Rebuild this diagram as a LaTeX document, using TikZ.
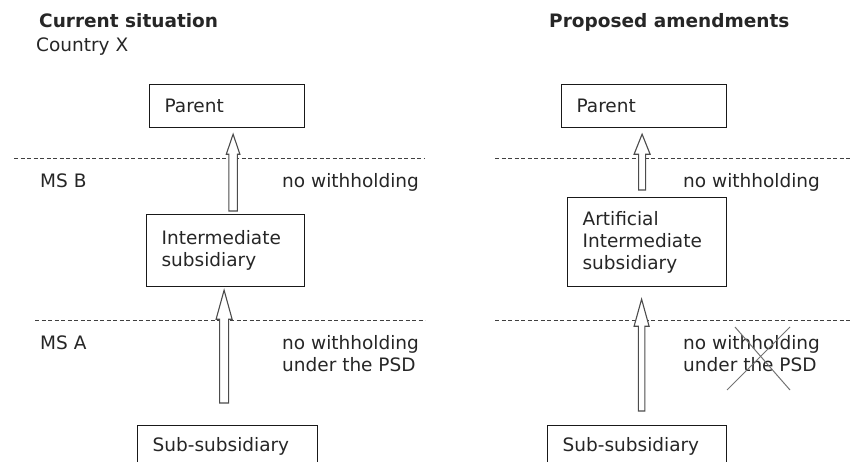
\documentclass[tikz,border=0pt]{standalone}
\usepackage{fontspec}
\setmainfont{DejaVu Sans}
\usetikzlibrary{calc}
% hollow block arrow: tail, tip, shaft half width, head half width, head length (pt)
\newcommand\flowarrow[5]{%
  \draw[flow] let \p1=(#1), \p2=(#2) in
    (\x2-#3pt,\y1) -- (\x2-#3pt,\y2-#5pt) -- (\x2-#4pt,\y2-#5pt) -- (\x2,\y2)
    -- (\x2+#4pt,\y2-#5pt) -- (\x2+#3pt,\y2-#5pt) -- (\x2+#3pt,\y1) -- cycle;}
\begin{document}
\begin{tikzpicture}[x=1pt,y=-1pt,
  basefont/.style={font=\fontsize{18.5pt}{22pt}\selectfont},
  txt/.style={basefont, inner sep=0pt, text=black!85, align=left},
  title/.style={txt, font=\fontsize{18.5pt}{22pt}\selectfont\bfseries},
  entity/.style={basefont, draw=black!90, line width=1.2pt, anchor=north west,
    inner xsep=15pt, inner ysep=0pt, align=left, text=black!85},
  border/.style={dash pattern=on 4pt off 2.5pt, line width=1pt, draw=black!75},
  flow/.style={draw=black!70, line width=1.1pt, fill=white, line join=miter},
  strike/.style={draw=black!55, line width=1pt}]
\useasboundingbox (0,0) rectangle (852,461);

% jurisdiction borders
\draw[border] (14,158) -- (425,158);
\draw[border] (35,320) -- (425,320);
\draw[border] (495,158) -- (852,158);
\draw[border] (495,320) -- (852,320);

% headings
\node[title, anchor=base west] (hcur) at (39,27) {Current situation};
\node[txt, anchor=base west] (hx) at (36,51) {Country X};
\node[title, anchor=base west] (hprop) at (549,27) {Proposed amendments};
\node[txt, anchor=base west] (msb) at (40,187) {MS B};
\node[txt, anchor=base west] (msa) at (40,349) {MS A};

% current situation
\node[entity, text width=125pt, minimum height=43pt] (p1) at (149,84) {Parent};
\node[entity, text width=128pt, minimum height=72pt] (i1) at (146,214) {Intermediate\\subsidiary};
\node[entity, text width=150pt, minimum height=42pt] (s1) at (137,425) {Sub-subsidiary};
\node[txt, anchor=north west] (nw1) at (282,173) {no withholding};
\node[txt, anchor=north west] (psd1) at (282,335) {no withholding\\under the PSD};

% proposed amendments
\node[entity, text width=135pt, minimum height=43pt] (p2) at (561,84) {Parent};
\node[entity, text width=129pt, minimum height=89pt] (i2) at (567,197) {Artificial\\Intermediate\\subsidiary};
\node[entity, text width=149pt, minimum height=42pt] (s2) at (547,425) {Sub-subsidiary};
\node[txt, anchor=north west] (nw2) at (683,173) {no withholding};
\node[txt, anchor=north west] (psd2) at (683,335) {no withholding\\under the PSD};

% payment flows
\coordinate (a1tip) at ($(p1.south)+(6,6)$);
\coordinate (a1tail) at ($(i1.north)+(7.5,-3)$);
\coordinate (a2tip) at ($(i1.south)+(-1.5,3)$);
\coordinate (a2tail) at ($(s1.north)+(-3.5,-22)$);
\coordinate (b1tip) at ($(p2.south)+(-2,6)$);
\coordinate (b1tail) at ($(i2.north)+(-5,-7)$);
\coordinate (b2tip) at ($(i2.south)+(-5.5,12)$);
\coordinate (b2tail) at ($(s2.north)+(4.5,-14)$);
\flowarrow{a1tail}{a1tip}{4.3}{6.8}{20}
\flowarrow{a2tail}{a2tip}{4.5}{8}{29}
\flowarrow{b1tail}{b1tip}{3.5}{8}{20}
\flowarrow{b2tail}{b2tip}{3.2}{7.5}{27}

% exemption struck out
\draw[strike] (727,390) -- (790,327);
\draw[strike] (735,327) -- (790,390);
\end{tikzpicture}
\end{document}
